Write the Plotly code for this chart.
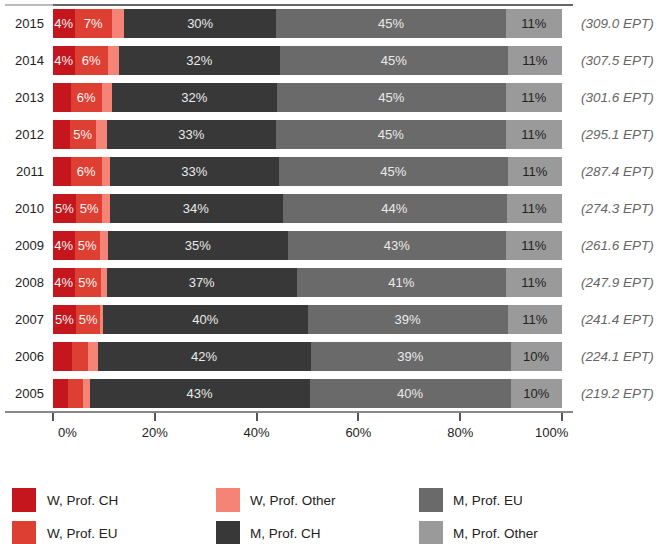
import plotly.graph_objects as go

years = ["2005", "2006", "2007", "2008", "2009", "2010", "2011", "2012", "2013", "2014", "2015"]
totals = [219.2, 224.1, 241.4, 247.9, 261.6, 274.3, 287.4, 295.1, 301.6, 307.5, 309.0]

series_names = ["W, Prof. CH", "W, Prof. EU", "W, Prof. Other",
                "M, Prof. CH", "M, Prof. EU", "M, Prof. Other"]

w_prof_ch    = [2.9, 3.7, 4.6, 4.3, 4.3, 4.6, 3.5, 3.3, 3.5, 4.3, 4.3]
w_prof_eu    = [2.9, 3.1, 4.7, 5.1, 4.9, 5.1, 6.1, 5.1, 6.1, 6.5, 7.3]
w_prof_other = [1.5, 2.0, 0.6, 1.2, 1.6, 1.4, 1.6, 2.2, 2.0, 2.2, 2.4]
m_prof_ch    = [43.1, 41.8, 40.1, 37.3, 35.4, 34.0, 33.2, 33.2, 32.4, 31.6, 29.9]
m_prof_eu    = [39.6, 39.3, 39.4, 41.1, 42.8, 44.0, 45.0, 45.2, 45.0, 44.8, 45.1]
m_prof_other = [10.0, 10.1, 10.6, 11.0, 11.0, 10.9, 10.6, 11.0, 11.0, 10.6, 11.0]

x_ticks = [0, 20, 40, 60, 80, 100]

series_values = [w_prof_ch, w_prof_eu, w_prof_other, m_prof_ch, m_prof_eu, m_prof_other]
colors = ["#c4161c", "#dd4033", "#f58476", "#383838", "#6a6a6a", "#9a9a9a"]
text_colors = ["#f5f5f5", "#f5f5f5", "#f5f5f5", "#eaeaea", "#eaeaea", "#222222"]

FONT = "Arial, Liberation Sans, sans-serif"

fig = go.Figure()
for name, vals, col, tcol in zip(series_names, series_values, colors, text_colors):
    labels = [f"{round(v)}%" if v >= 4.0 else "" for v in vals]
    fig.add_trace(go.Bar(
        y=years, x=vals, name=name, orientation="h",
        marker=dict(color=col, line=dict(width=0)),
        text=labels, textposition="inside", insidetextanchor="middle",
        textangle=0, constraintext="none",
        textfont=dict(color=tcol, size=13, family=FONT),
        hovertemplate="%{y}: %{x:.1f}%<extra>" + name + "</extra>",
        showlegend=False,
    ))

W, H = 666, 544
ML, MR, MT, MB = 53, 104, 5, 132
PW = W - ML - MR
PH = H - MT - MB


def px(xp):
    return (xp - ML) / PW


def py(yp):
    return (MT + PH - yp) / PH


shapes = [
    dict(type="line", xref="paper", yref="paper", x0=px(5), x1=px(53), y0=1, y1=1,
         line=dict(color="#bbbbbb", width=2)),
    dict(type="line", xref="paper", yref="paper", x0=px(53), x1=px(573), y0=1, y1=1,
         line=dict(color="#666666", width=2)),
    dict(type="line", xref="paper", yref="paper", x0=px(5), x1=px(573), y0=py(412), y1=py(412),
         line=dict(color="#888888", width=2)),
]

annotations = []
for i, (yr, tot) in enumerate(zip(years, totals)):
    annotations.append(dict(
        x=1, y=i, xref="paper", yref="y", xanchor="left", yanchor="middle",
        xshift=17, text=f"<i>({tot:.1f} EPT)</i>", showarrow=False,
        font=dict(size=13.5, color="#666666", family=FONT)))

# end tick labels (offset inward as in the reference)
annotations.append(dict(x=0, y=0, xref="paper", yref="paper", xanchor="center", yanchor="middle",
                        xshift=14, yshift=-20, text="0%", showarrow=False,
                        font=dict(size=13, color="#222222", family=FONT)))
annotations.append(dict(x=1, y=0, xref="paper", yref="paper", xanchor="center", yanchor="middle",
                        xshift=-10, yshift=-20, text="100%", showarrow=False,
                        font=dict(size=13, color="#222222", family=FONT)))

# custom legend (3 columns, column-major)
sw_x = [12, 216, 419]
tx_x = [45, 248, 451]
row_y = [488, 521]
for i, (name, col) in enumerate(zip(series_names, colors)):
    c, r = i // 2, i % 2
    shapes.append(dict(type="rect", xref="paper", yref="paper",
                       x0=px(sw_x[c]), x1=px(sw_x[c] + 24),
                       y0=py(row_y[r]), y1=py(row_y[r] + 24),
                       fillcolor=col, line=dict(width=0)))
    annotations.append(dict(x=px(tx_x[c]), y=py(row_y[r] + 12), xref="paper", yref="paper",
                            xanchor="left", yanchor="middle", text=name, showarrow=False,
                            font=dict(size=13.5, color="#222222", family=FONT)))

fig.update_layout(
    width=W, height=H, margin=dict(l=ML, r=MR, t=MT, b=MB, pad=0),
    barmode="stack", bargap=0.22,
    plot_bgcolor="white", paper_bgcolor="white",
    font=dict(family=FONT, size=13, color="#222222"),
    xaxis=dict(range=[0, 100], tickvals=x_ticks,
               ticktext=["" if v in (0, 100) else f"{v}%" for v in x_ticks],
               ticks="outside", ticklen=8, tickwidth=1.5, tickcolor="#555555",
               showline=False, showgrid=False, zeroline=False,
               tickfont=dict(size=13, color="#222222")),
    yaxis=dict(type="category", categoryorder="array", categoryarray=years,
               range=[-0.5, len(years) - 0.5], ticks="", showline=False,
               showgrid=False, zeroline=False, ticklabelstandoff=8,
               tickfont=dict(size=13, color="#222222")),
    shapes=shapes, annotations=annotations, showlegend=False,
)

fig.write_html("out.html", config={"displayModeBar": False},
               post_script="document.body.style.margin='0';document.body.style.overflow='hidden';")
